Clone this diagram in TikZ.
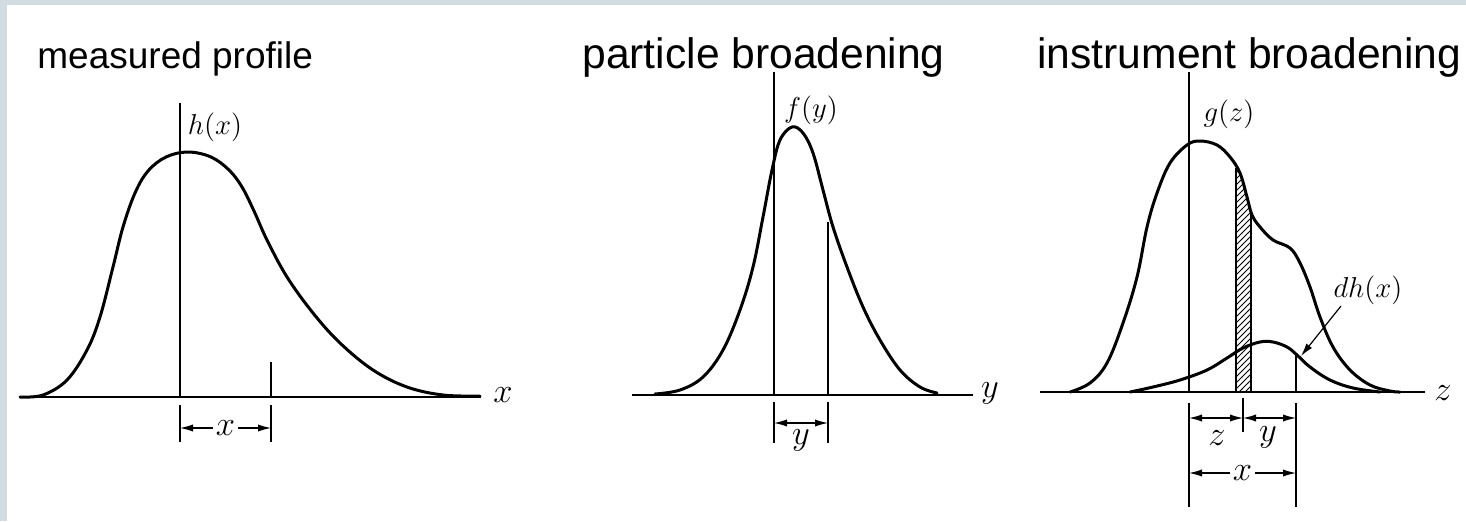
\documentclass[tikz,border=0pt]{standalone}
\usepackage{fontspec}
\setmainfont{Liberation Sans}
\usetikzlibrary{arrows.meta,patterns}
\definecolor{FrameBg}{HTML}{D0DCE0}

\begin{document}
\begin{tikzpicture}[x=0.5pt,y=-0.5pt,
  every node/.style={font=\fontsize{14.5}{17}\selectfont, inner sep=1pt},
  ttl/.style={anchor=base west, inner sep=0pt, font=\fontsize{21.3}{25}\selectfont},
  prof/.style={line width=1.5pt, line join=round, line cap=round},
  axis/.style={line width=1pt},
  vline/.style={line width=0.7pt},
  dim/.style={{Latex[length=6.5pt,width=3.6pt]}-{Latex[length=6.5pt,width=3.6pt]}, line width=0.6pt},
  gap/.style={fill=white, inner sep=1.5pt},
  big/.style={font=\fontsize{16}{18}\selectfont},
]
% frame
\fill[FrameBg] (0,0) rectangle (1466,521);
\fill[white] (7,5) rectangle (1466,521);

% titles
\node[ttl, font=\fontsize{18.5}{22}\selectfont] (t1) at (37,68) {measured profile};
\node[ttl] (t2) at (582,68) {particle broadening};
\node[ttl] (t3) at (1037,68) {instrument broadening};

% --- measured profile
\draw[axis] (20,397) -- (481,397);
\node[big] (xax) at (503,395) {$x$};
\draw[vline] (180,103) -- (180,397);
\draw[vline] (271,362) -- (271,397);
\draw[vline] (180,405) -- (180,442);
\draw[vline] (271,405) -- (271,442);
\coordinate (hx0) at (180,428);
\coordinate (hx1) at (271,428);
\draw[dim] (hx0) -- node[gap, big] (hxl) {$x$} (hx1);
\node (hlab) at (215,127) {$h(x)$};
\draw[prof] plot[smooth, tension=0.6] coordinates {
  (20,397) (43,395) (67,380) (87,350) (100,317) (113,267) (123,227)
  (135,193) (148,171) (166,157) (188,152) (211,157) (229,170)
  (242,187) (254,211) (267,240) (287,277) (313,313) (340,343) (373,370)
  (407,387) (443,395) (480,396)};

% --- particle broadening
\draw[axis] (632,395) -- (973,395);
\node[big] (yax) at (990,393) {$y$};
\draw[vline] (774,72) -- (774,395);
\draw[vline] (828,222) -- (828,395);
\draw[vline] (774,402) -- (774,443);
\draw[vline] (828,402) -- (828,443);
\coordinate (fy0) at (774,423);
\coordinate (fy1) at (828,423);
\draw[dim] (fy0) -- (fy1);
\node[big] (fyl) at (801,440) {$y$};
\node (flab) at (811,110) {$f(y)$};
\draw[prof] plot[smooth, tension=0.6] coordinates {
  (655,394) (680,390) (703,377) (723,350) (740,310) (753,267) (763,217)
  (772,170) (780,140) (792,127) (803,133) (813,153) (823,190) (833,227)
  (847,267) (863,307) (880,340) (900,370) (920,387) (937,393)};

% --- instrument broadening
\fill[pattern=north east lines] (1236,392) -- (1236,168) -- (1240,173)
  -- (1247,197) -- (1251,212) -- (1251,392) -- cycle;
\draw[vline] (1236,168) -- (1236,392);
\draw[vline] (1251,212) -- (1251,392);
\draw[axis] (1040,392) -- (1425,392);
\node[big] (zax) at (1443,393) {$z$};
\draw[vline] (1189,72) -- (1189,392);
\draw[vline] (1296,355) -- (1296,392);
\draw[vline] (1189,403) -- (1189,507);
\draw[vline] (1296,403) -- (1296,507);
\draw[vline] (1243,398) -- (1243,432);
\coordinate (gz0) at (1189,418);
\coordinate (gz1) at (1243,418);
\coordinate (gz2) at (1296,418);
\draw[dim] (gz0) -- (gz1);
\draw[dim] (gz1) -- (gz2);
\node[big] (gzl) at (1217,438) {$z$};
\node[big] (gyl) at (1268,437) {$y$};
\coordinate (gx0) at (1189,473);
\coordinate (gx1) at (1296,473);
\draw[dim] (gx0) -- node[gap, big] (gxl) {$x$} (gx1);
\node (glab) at (1229,114) {$g(z)$};
\node (dhlab) at (1368,290) {$dh(x)$};
\coordinate (dhtail) at (1341,306);
\coordinate (dhtip) at (1301,356);
\draw[-{Latex[length=6.5pt,width=3.6pt]}, line width=0.6pt] (dhtail) -- (dhtip);
\draw[prof] plot[smooth, tension=0.6] coordinates {
  (1070,392) (1090,383) (1107,363) (1123,323) (1137,277) (1147,227)
  (1157,193) (1170,163) (1187,145) (1200,141) (1217,145) (1230,157)
  (1240,173) (1247,197) (1252,215) (1260,227) (1273,240) (1290,248)
  (1300,263) (1310,287) (1320,317) (1333,347) (1350,370) (1370,385)
  (1390,391) (1400,392)};
\draw[prof] plot[smooth, tension=0.6] coordinates {
  (1130,392) (1153,387) (1180,380) (1207,370) (1227,358) (1243,348)
  (1260,342) (1273,342) (1287,347) (1297,355) (1310,367) (1330,380)
  (1353,388) (1380,392)};
\end{tikzpicture}
\end{document}
